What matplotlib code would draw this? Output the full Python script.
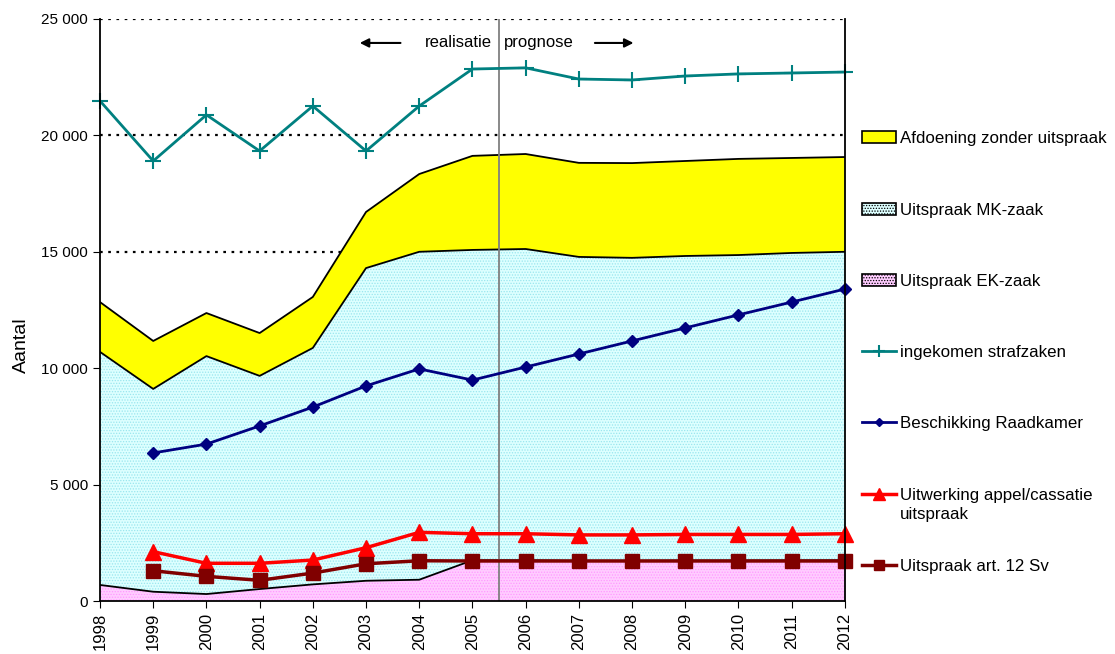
import matplotlib.pyplot as plt
import numpy as np
from matplotlib.ticker import FuncFormatter

plt.rcParams['font.family'] = ['Liberation Sans', 'DejaVu Sans']
plt.rcParams['hatch.linewidth'] = 0.6

jaren = np.arange(1998, 2013)

# bovenkant van de gestapelde vlakken
ek_zaak = [690, 400, 300, 515, 715, 870, 915, 1750, 1750, 1730, 1730, 1740, 1740, 1745, 1750]
mk_top = [10700, 9110, 10520, 9670, 10870, 14300, 15000, 15080, 15120, 14780, 14740, 14820, 14860, 14950, 15000]
totaal_top = [12840, 11170, 12370, 11510, 13060, 16710, 18340, 19120, 19200, 18820, 18810, 18900, 18990, 19030, 19070]

# lijnen
jaren_lijn = np.arange(1999, 2013)
ingekomen = [21480, 18900, 20880, 19330, 21260, 19330, 21260, 22850, 22900, 22420, 22380, 22550, 22640, 22680, 22720]
raadkamer = [6360, 6740, 7520, 8330, 9240, 9970, 9490, 10050, 10610, 11170, 11730, 12290, 12840, 13400]
appel = [2120, 1620, 1620, 1760, 2290, 2950, 2890, 2890, 2840, 2840, 2860, 2860, 2860, 2890]
art12 = [1300, 1060, 890, 1200, 1600, 1730, 1720, 1720, 1720, 1720, 1720, 1720, 1720, 1720]

fig = plt.figure(figsize=(11.15, 6.54), dpi=100)
ax = fig.add_axes([0.0897, 0.081, 0.668, 0.890])

# gridlijnen (achter de vlakken)
for g in [5000, 10000, 15000, 20000, 25000]:
    ax.axhline(g, color='black', lw=1.6, ls=(0, (1.2, 2.5)), zorder=0)

ax.fill_between(jaren, 0, ek_zaak, facecolor='#ffccff', edgecolor='#ff99ff', hatch='......', lw=0, zorder=1,
                label='Uitspraak EK-zaak')
ax.fill_between(jaren, ek_zaak, mk_top, facecolor='#ddffff', edgecolor='#99e6ee', hatch='......', lw=0, zorder=1,
                label='Uitspraak MK-zaak')
ax.fill_between(jaren, mk_top, totaal_top, facecolor='#ffff00', lw=0, zorder=1,
                label='Afdoening zonder uitspraak')
for top in [ek_zaak, mk_top, totaal_top]:
    ax.plot(jaren, top, color='black', lw=1.3, zorder=2)

ax.axvline(2005.5, color='#808080', lw=1.3, zorder=3)

ax.plot(jaren, ingekomen, color='#008080', lw=2, marker='+', ms=12, mew=1.5, zorder=4, clip_on=False,
        label='ingekomen strafzaken')
ax.plot(jaren_lijn, raadkamer, color='#000080', lw=2, marker='D', ms=6, zorder=4, clip_on=False,
        label='Beschikking Raadkamer')
ax.plot(jaren_lijn, appel, color='#ff0000', lw=2.5, marker='^', ms=11, zorder=4, clip_on=False,
        label='Uitwerking appel/cassatie')
ax.plot(jaren_lijn, art12, color='#800000', lw=2.5, marker='s', ms=10, zorder=4, clip_on=False,
        label='Uitspraak art. 12 Sv')

ax.text(2005.37, 23970, 'realisatie', ha='right', va='center', fontsize=12)
ax.text(2005.6, 23970, 'prognose', ha='left', va='center', fontsize=12)
ax.annotate('', xy=(2002.83, 23970), xytext=(2003.7, 23970),
            arrowprops=dict(arrowstyle='-|>', color='black', lw=1.5, mutation_scale=13))
ax.annotate('', xy=(2008.08, 23970), xytext=(2007.25, 23970),
            arrowprops=dict(arrowstyle='-|>', color='black', lw=1.5, mutation_scale=13))

ax.set_xlim(1998, 2012)
ax.set_ylim(0, 25000)
ax.set_xticks(jaren)
ax.set_xticklabels([str(j) for j in jaren], rotation=90, fontsize=12)
ax.set_yticks(np.arange(0, 25001, 5000))
ax.yaxis.set_major_formatter(FuncFormatter(lambda v, p: f'{int(v):,}'.replace(',', ' ')))
ax.tick_params(axis='y', labelsize=11, direction='out', length=5)
ax.tick_params(axis='x', direction='out', length=5)
ax.set_ylabel('Aantal', fontsize=14)
ax.yaxis.set_label_coords(-0.094, 0.44)
ax.spines['top'].set_visible(False)
for s in ['left', 'bottom', 'right']:
    ax.spines[s].set_linewidth(1.3)
    ax.spines[s].set_zorder(5)

h, l = ax.get_legend_handles_labels()
volgorde = [2, 1, 0, 3, 4, 5, 6]
leg = fig.legend([h[i] for i in volgorde], [l[i] for i in volgorde], loc='upper left',
                 bbox_to_anchor=(0.759, 0.8226), frameon=False, fontsize=12.2,
                 labelspacing=3.32, handlelength=2.05, handletextpad=0.2, markerscale=0.75)
for p in leg.get_patches():
    p.set_edgecolor('black')
    p.set_linewidth(1.2)

# tweede regel van het appel/cassatie-label, net onder de eerste
fig.canvas.draw()
t = leg.get_texts()[5]
bb = t.get_window_extent().transformed(fig.transFigure.inverted())
fig.text(bb.x0, bb.y0 - 0.007, 'uitspraak', ha='left', va='top', fontsize=12.2)

fig.savefig('out.png', dpi=100)
